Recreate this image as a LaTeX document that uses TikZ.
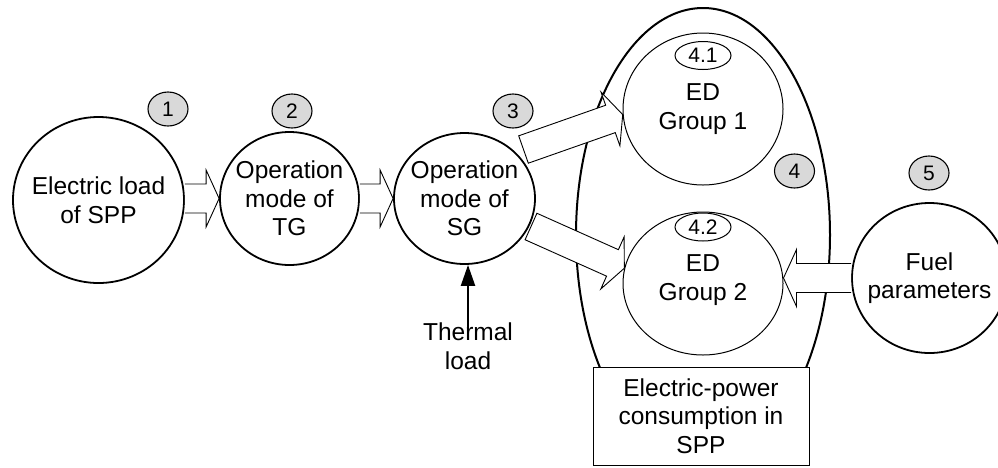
\documentclass[tikz,border=0pt]{standalone}
\usepackage{fontspec}
\setmainfont{Liberation Sans}
\usetikzlibrary{arrows.meta,calc,shapes.geometric}

% Hohlpfeil: [Abschluss]{Start}{Spitze}
\newcommand{\blockarrow}[3][]{%
  \coordinate (ba-h) at ($(#3)!13pt!(#2)$);
  \draw[blockarr]
    ($(#2)!14.5pt!90:(#3)$) -- ($(ba-h)!14.5pt!90:(#3)$) -- ($(ba-h)!28.5pt!90:(#3)$)
    -- (#3) -- ($(ba-h)!28.5pt!-90:(#3)$) -- ($(ba-h)!14.5pt!-90:(#3)$)
    -- ($(#2)!14.5pt!-90:(#3)$) #1;}

\begin{document}
\begin{tikzpicture}[x=1pt,y=-1pt,
    font=\fontsize{24.5}{28.5}\selectfont,
    bigcirc/.style={ellipse,draw,line width=1.8pt,fill=white,inner sep=0pt},
    edcirc/.style={ellipse,draw,line width=1pt,inner sep=0pt,
        minimum width=160pt},
    numlbl/.style={ellipse,draw,line width=1.1pt,fill=gray!30,inner sep=0pt,
        minimum width=40pt,minimum height=34pt,font=\fontsize{21}{24}\selectfont},
    sublbl/.style={ellipse,draw,line width=1pt,inner sep=0pt,
        minimum width=56pt,minimum height=28pt,font=\fontsize{21}{24}\selectfont},
    txt/.style={align=center,inner sep=0pt},
    blockarr/.style={draw,fill=white,line width=0.9pt,line join=miter}]

    \useasboundingbox (0,0) rectangle (998,467);

    % =========================================================
    % Block 4: Eigenbedarf der Anlage (grosse Ellipse)
    % =========================================================
    \node[ellipse,draw,line width=2pt,inner sep=0pt,
        minimum width=254pt,minimum height=454pt] (plant) at (703,235) {};

    \node[edcirc,minimum height=152pt] (ed1) at (703,109) {};
    \node[txt] (ed1-txt) at (ed1) {ED\\Group 1};
    \node[sublbl] (lbl41) at (703,55.5) {4.1};

    \node[edcirc,minimum height=143pt] (ed2) at (703,283.5) {};
    \node[txt] (ed2-txt) at (703,280) {ED\\Group 2};
    \node[sublbl] (lbl42) at (703,227) {4.2};

    \node[draw,fill=white,line width=1pt,minimum width=216pt,minimum height=98pt,
        txt] (consum) at (701,416) {Electric-power\\consumption in\\SPP};

    % ---------------------------------------------------------
    % Bloecke 1, 2, 3, 5
    % ---------------------------------------------------------
    \node[bigcirc,minimum width=171pt,minimum height=166pt] (c1) at (98.5,200) {};
    \node[txt] (c1-txt) at (c1) {Electric load\\of SPP};

    \node[bigcirc,minimum width=139pt,minimum height=133pt] (tg) at (289.5,198.5) {};
    \node[txt] (tg-txt) at (tg) {Operation\\mode of\\TG};

    \node[bigcirc,minimum width=141pt,minimum height=131pt] (sg) at (464.5,198.5) {};
    \node[txt] (sg-txt) at (sg) {Operation\\mode of\\SG};

    \node[bigcirc,minimum width=155pt,minimum height=150pt] (fuel) at (929.5,278) {};
    \node[txt] (fuel-txt) at (fuel) {Fuel\\parameters};

    \node[txt] (thermal) at (468,346) {Thermal\\load};

    % Nummern
    \node[numlbl] (n1) at (168,109) {1};
    \node[numlbl] (n2) at (292,111) {2};
    \node[numlbl] (n3) at (513,111) {3};
    \node[numlbl] (n4) at (794.5,171) {4};
    \node[numlbl] (n5) at (929,173) {5};

    % ---------------------------------------------------------
    % Pfeile
    % ---------------------------------------------------------
    \coordinate (c1-s) at (c1.east |- tg.west);
    \coordinate (sg-a) at ($(sg.center)+(59,-49)$);
    \coordinate (sg-b) at ($(sg.center)+(66.5,28)$);
    \coordinate (fu-t) at (ed2.east |- fuel.west);

    \blockarrow{c1-s}{tg.west}
    \blockarrow{tg.east}{sg.west}
    \blockarrow[-- cycle]{sg-a}{ed1.184}
    \blockarrow[-- cycle]{sg-b}{ed2.169}
    \blockarrow{fuel.west}{fu-t}

    % Waermelast
    \draw[-{Triangle[width=14pt,length=21pt]},line width=2.2pt,shorten <=-11pt]
        (thermal.north) -- (thermal.north |- sg.south);

\end{tikzpicture}
\end{document}
